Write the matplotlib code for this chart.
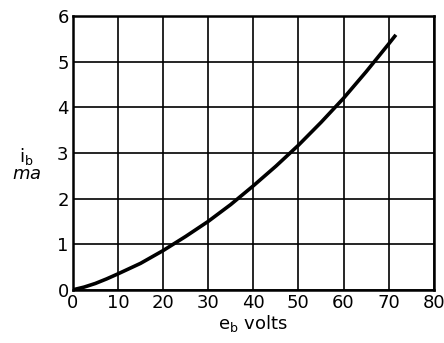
import matplotlib
matplotlib.use("Agg")
import matplotlib.pyplot as plt

# Data
eb_volts = [0, 2.5, 5, 7.5, 10, 15, 20, 25, 30, 35, 40, 45, 50, 55, 60, 65, 70, 71.6]
ib_ma = [0, 0.06, 0.14, 0.24, 0.35, 0.58, 0.86, 1.17, 1.50, 1.87, 2.28, 2.71, 3.17, 3.67, 4.20, 4.78, 5.39, 5.59]
x_ticks = [0, 10, 20, 30, 40, 50, 60, 70, 80]
y_ticks = [0, 1, 2, 3, 4, 5, 6]

plt.rcParams['font.family'] = ['DejaVu Sans']
fig = plt.figure(figsize=(4.44, 3.43), dpi=100)
ax = fig.add_axes([0.164, 0.155, 0.813, 0.798])
ax.plot(eb_volts, ib_ma, color='black', lw=2.6, solid_capstyle='butt', solid_joinstyle='round')
ax.set_xlim(0, 80)
ax.set_ylim(0, 6)
ax.set_xticks(x_ticks)
ax.set_yticks(y_ticks)
ax.set_xticklabels([str(v) for v in x_ticks], fontsize=13)
ax.set_yticklabels([str(v) for v in y_ticks], fontsize=13)
ax.tick_params(length=0, pad=3)
ax.grid(True, color='black', lw=1.2)
for s in ax.spines.values():
    s.set_linewidth(1.8)
    s.set_color('black')
ax.set_xlabel(r'e$_\mathregular{b}$ volts', fontsize=13, labelpad=1)
fig.text(0.06, 0.52, 'i$_\\mathregular{b}$\n$\\it{ma}$', fontsize=13, ha='center', va='center', linespacing=0.9)
fig.savefig('out.png', dpi=100)
